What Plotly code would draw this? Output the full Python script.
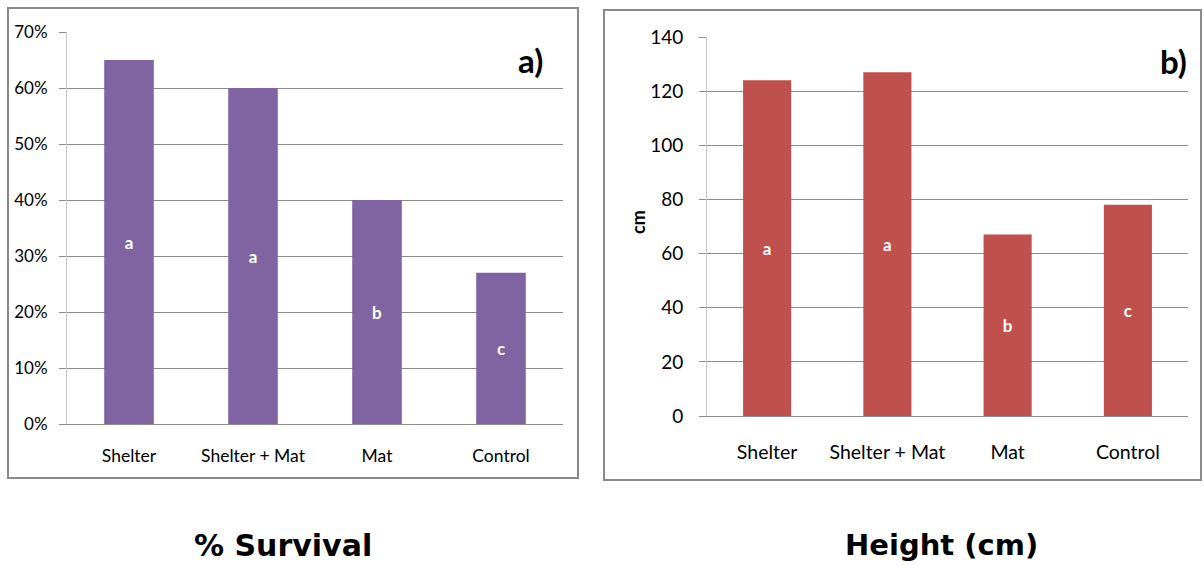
import plotly.graph_objects as go

# Treatments shared by both panels
treatments = ["Shelter", "Shelter + Mat", "Mat", "Control"]

# Panel a) survival (%) and significance letters
survival_pct = [65, 60, 40, 27]
survival_letters = ["a", "a", "b", "c"]

# Panel b) height (cm) and significance letters
height_cm = [124, 127, 67, 78]
height_letters = ["a", "a", "b", "c"]

W, H = 1204, 566
PURPLE = "#8064A2"
RED = "#C0504D"
GRID = "#8c8c8c"
FONT = "Lato, Calibri, Carlito, sans-serif"


def px(x):
    return x / W


def py(y):
    return 1 - y / H


fig = go.Figure()

fig.add_trace(go.Bar(
    x=treatments, y=survival_pct, text=survival_letters,
    marker_color=PURPLE, marker_line_width=0,
    textposition="inside", insidetextanchor="middle", textangle=0,
    textfont=dict(color="white", size=17, family=FONT, weight="bold"),
    xaxis="x", yaxis="y", showlegend=False, hoverinfo="skip",
))
fig.add_trace(go.Bar(
    x=treatments, y=height_cm, text=height_letters,
    marker_color=RED, marker_line_width=0,
    textposition="inside", insidetextanchor="middle", textangle=0,
    textfont=dict(color="white", size=17, family=FONT, weight="bold"),
    xaxis="x2", yaxis="y2", showlegend=False, hoverinfo="skip",
))

common_x = dict(showgrid=False, showline=True, linecolor=GRID, linewidth=1,
                ticks="", zeroline=False, automargin=False)
common_y = dict(showgrid=True, gridcolor=GRID, gridwidth=1, showline=True,
                linecolor="#c8c8c8", linewidth=1, ticks="outside", ticklen=7,
                tickcolor=GRID, zeroline=False, automargin=False)

fig.update_layout(
    width=W, height=H,
    margin=dict(l=0, r=0, t=0, b=0, pad=0),
    paper_bgcolor="white", plot_bgcolor="white",
    bargap=0.6,
    font=dict(family=FONT, color="black"),
    xaxis=dict(domain=[px(67), px(563)], anchor="y",
               tickfont=dict(size=17.5, family=FONT), ticklabelstandoff=16,
               **common_x),
    yaxis=dict(domain=[py(424), py(32)], anchor="x", range=[0, 70], dtick=10,
               ticksuffix="%", tickfont=dict(size=17, family=FONT),
               ticklabelstandoff=8, **common_y),
    xaxis2=dict(domain=[px(707), px(1188)], anchor="y2",
                tickfont=dict(size=19.5, family=FONT), ticklabelstandoff=19,
                **common_x),
    yaxis2=dict(domain=[py(416), py(37)], anchor="x2", range=[0, 140], dtick=20,
                tickfont=dict(size=19, family=FONT), ticklabelstandoff=12,
                **common_y),
)

# Panel frames
fig.add_shape(type="rect", xref="paper", yref="paper",
              x0=px(8), x1=px(578), y0=py(478), y1=py(8),
              line=dict(color="#8a8a8a", width=2), layer="below")
fig.add_shape(type="rect", xref="paper", yref="paper",
              x0=px(604), x1=px(1201), y0=py(480), y1=py(10),
              line=dict(color="#8a8a8a", width=2), layer="below")

annotations = [
    dict(text="<b>a)</b>", x=px(530), y=py(60), font=dict(size=33, family=FONT)),
    dict(text="<b>b)</b>", x=px(1173), y=py(61), font=dict(size=33, family=FONT)),
    dict(text="<b>cm</b>", x=px(638), y=py(222), textangle=-90,
         font=dict(size=18, family=FONT)),
    dict(text="<b>% Survival</b>", x=px(283), y=py(545),
         font=dict(size=30, family="DejaVu Sans")),
    dict(text="<b>Height (cm)</b>", x=px(941), y=py(545),
         font=dict(size=29, family="DejaVu Sans")),
]
for a in annotations:
    fig.add_annotation(xref="paper", yref="paper", showarrow=False,
                       xanchor="center", yanchor="middle", **a)

fig.write_html("out.html")
